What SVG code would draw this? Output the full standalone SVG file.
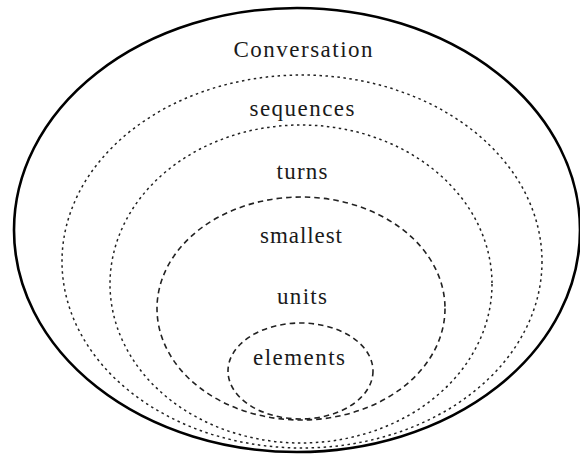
<svg xmlns="http://www.w3.org/2000/svg" width="580" height="455" viewBox="0 0 580 455">
  <style>
    .lbl { font-family: "Liberation Serif", "Times New Roman", serif; font-size: 23px; fill: #1a1a1a; text-anchor: middle; }
    .solid { fill: none; stroke: #000; stroke-width: 2.6; }
    .dotted { fill: none; stroke: #222; stroke-width: 1.5; stroke-dasharray: 2.5 3.5; }
    .dashed { fill: none; stroke: #222; stroke-width: 1.6; stroke-dasharray: 5.5 4; }
  </style>
  <rect width="580" height="455" fill="#fff"/>

  <g id="conversation">
    <ellipse class="solid" cx="297" cy="230" rx="283" ry="222"/>
    <text class="lbl" x="303" y="57" textLength="139" lengthAdjust="spacing">Conversation</text>
  </g>

  <g id="sequences">
    <ellipse class="dotted" cx="302" cy="261.5" rx="240" ry="186.5"/>
    <text class="lbl" x="302" y="116" textLength="105" lengthAdjust="spacing">sequences</text>
  </g>

  <g id="turns">
    <ellipse class="dotted" cx="301" cy="284" rx="191" ry="159"/>
    <text class="lbl" x="302" y="179" textLength="51" lengthAdjust="spacing">turns</text>
  </g>

  <g id="smallest-units">
    <ellipse class="dashed" cx="301" cy="308.5" rx="144" ry="111.5"/>
    <text class="lbl" x="301" y="243" textLength="82" lengthAdjust="spacing">smallest</text>
    <text class="lbl" x="302" y="304" textLength="50" lengthAdjust="spacing">units</text>
  </g>

  <g id="elements">
    <ellipse class="dashed" cx="300.5" cy="371" rx="72.5" ry="48"/>
    <text class="lbl" x="299" y="365" textLength="92" lengthAdjust="spacing">elements</text>
  </g>

  <g id="connectors"/>
</svg>
